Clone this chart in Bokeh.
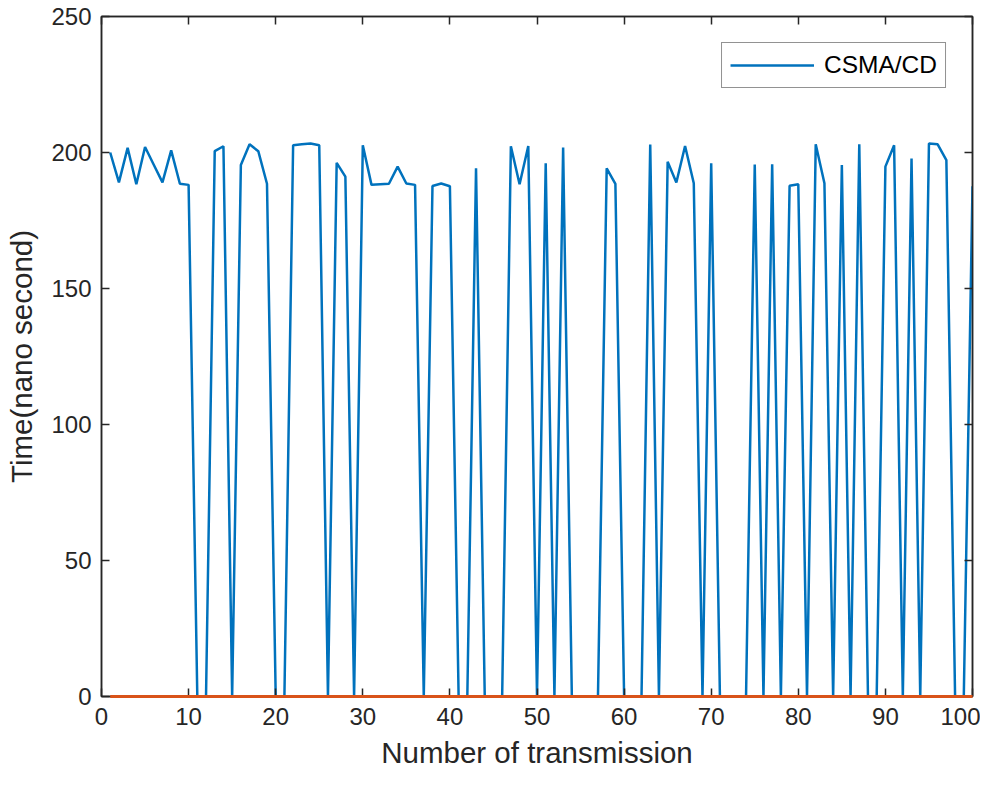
from bokeh.plotting import figure
from bokeh.models import Range1d, LinearAxis, FixedTicker, Legend, LegendItem
from bokeh.embed import file_html
from bokeh.resources import INLINE

transmissions = list(range(1, 101))
csma_cd = [
    200.0, 189.0, 201.7, 188.3, 202.0, 195.5, 189.0, 200.8, 188.5, 188.1,
    0.0, 0.0, 200.5, 202.3, 0.0, 195.4, 203.0, 200.5, 188.5, 0.0,
    0.0, 202.7, 203.0, 203.3, 202.7, 0.0, 196.2, 191.1, 0.0, 202.7,
    188.1, 188.3, 188.5, 194.8, 188.6, 188.1, 0.0, 187.7, 188.6, 187.6,
    0.0, 0.0, 194.2, 0.0, 0.0, 0.0, 202.3, 188.3, 202.4, 0.0,
    196.0, 0.0, 201.8, 0.0, 0.0, 0.0, 0.0, 194.2, 188.5, 0.0,
    0.0, 0.0, 202.9, 0.0, 196.6, 189.0, 202.4, 188.7, 0.0, 196.0,
    0.0, 0.0, 0.0, 0.0, 195.6, 0.0, 195.7, 0.0, 187.8, 188.3,
    0.0, 203.0, 188.7, 0.0, 195.4, 0.0, 203.0, 0.0, 0.0, 194.8,
    202.7, 0.0, 197.8, 0.0, 203.3, 203.0, 197.2, 0.0, 0.0, 187.6,
]
baseline = [0.0] * 100

x_ticks = [0, 10, 20, 30, 40, 50, 60, 70, 80, 90, 100]
y_ticks = [0, 50, 100, 150, 200, 250]

AX = "#262626"
FONT = "Liberation Sans"

p = figure(width=980, height=771, output_backend="svg", toolbar_location=None,
           x_range=Range1d(0, 100), y_range=Range1d(0, 250),
           min_border_left=101, min_border_right=8, min_border_top=16, min_border_bottom=70)
p.grid.visible = False
p.outline_line_color = AX
p.outline_line_width = 1.5
p.background_fill_color = "white"
p.border_fill_color = "white"

for ax in (p.xaxis[0], p.yaxis[0]):
    ax.major_tick_in = 8
    ax.major_tick_out = 0
    ax.minor_tick_in = 0
    ax.minor_tick_out = 0
    ax.axis_line_color = AX
    ax.axis_line_width = 1.5
    ax.major_tick_line_color = AX
    ax.major_tick_line_width = 1.5
    ax.major_label_text_font = FONT
    ax.major_label_text_font_size = "24px"
    ax.major_label_text_color = AX
    ax.axis_label_text_font = FONT
    ax.axis_label_text_font_size = "29.5px"
    ax.axis_label_text_font_style = "normal"
    ax.axis_label_text_color = AX

p.xaxis.ticker = FixedTicker(ticks=x_ticks)
p.yaxis.ticker = FixedTicker(ticks=y_ticks)
p.xaxis.axis_label = "Number of transmission"
p.yaxis.axis_label = "Time(nano second)"
p.xaxis.major_label_standoff = 11
p.yaxis.major_label_standoff = 10
p.xaxis.axis_label_standoff = 8
p.yaxis.axis_label_standoff = 10

top = LinearAxis(ticker=FixedTicker(ticks=x_ticks),
                 major_label_overrides={t: "" for t in x_ticks},
                 major_label_text_font_size="1px",
                 major_tick_in=8, major_tick_out=0, minor_tick_in=0, minor_tick_out=0,
                 axis_line_color=AX, axis_line_width=1.5, major_tick_line_color=AX,
                 major_tick_line_width=1.5, major_label_standoff=0)
right = LinearAxis(ticker=FixedTicker(ticks=y_ticks),
                   major_label_overrides={t: "" for t in y_ticks},
                   major_label_text_font_size="1px",
                   major_tick_in=8, major_tick_out=0, minor_tick_in=0, minor_tick_out=0,
                   axis_line_color=AX, axis_line_width=1.5, major_tick_line_color=AX,
                   major_tick_line_width=1.5, major_label_standoff=0)
p.add_layout(top, "above")
p.add_layout(right, "right")

r1 = p.line(transmissions, csma_cd, line_color="#0072BD", line_width=2.5)
r2 = p.line(transmissions, baseline, line_color="#D95319", line_width=3, level="overlay")

legend = Legend(items=[LegendItem(label="CSMA/CD", renderers=[r1])], location="top_right")
legend.margin = 26
legend.border_line_color = AX
legend.border_line_width = 1.5
legend.background_fill_alpha = 1.0
legend.label_text_font = FONT
legend.label_text_font_size = "24.5px"
legend.label_text_color = "#000000"
legend.glyph_width = 84
legend.padding = 8
legend.spacing = 0
legend.label_standoff = 10
p.add_layout(legend, "center")

open("out.html", "w").write(file_html(p, INLINE))
